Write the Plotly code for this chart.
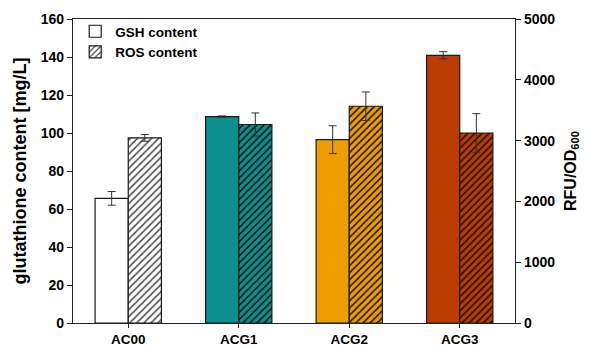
import plotly.graph_objects as go

# Strains
categories = ["AC00", "ACG1", "ACG2", "ACG3"]

# Glutathione content [mg/L] (left axis)
gsh_values = [65.6, 108.6, 96.5, 140.9]
gsh_errors = [3.6, 0.4, 7.3, 1.9]

# ROS content, RFU/OD600 (right axis)
ros_values = [3045, 3265, 3565, 3125]
ros_errors = [55, 190, 235, 318]

bar_colors = ["#FFFFFF", "#0E8F8F", "#EE9D00", "#BC3C02"]
hatch_colors = ["#4a4a4a", "#111111", "#111111", "#111111"]

font_family = "Liberation Sans, Arial, sans-serif"
bar_w = 0.3

fig = go.Figure()

# GSH bars: solid fill, left axis
fig.add_trace(go.Bar(
    x=categories, y=gsh_values, name="GSH content",
    width=bar_w, offset=-bar_w,
    marker=dict(color=bar_colors, line=dict(color="#1a1a1a", width=1.2)),
    error_y=dict(type="data", array=gsh_errors, color="#333333", thickness=1, width=4),
    yaxis="y", legendgroup="gsh",
))

# ROS bars: hatched fill, right axis (one trace per strain so each gets its own hatch colours)
for i, cat in enumerate(categories):
    fig.add_trace(go.Bar(
        x=[cat], y=[ros_values[i]], name="ROS content",
        width=bar_w, offset=0,
        marker=dict(color=bar_colors[i], line=dict(color="#1a1a1a", width=1.2),
                    pattern=dict(shape="/", fgcolor=hatch_colors[i], bgcolor=bar_colors[i],
                                 size=5, solidity=0.3, fillmode="replace")),
        error_y=dict(type="data", array=[ros_errors[i]], color="#333333", thickness=1, width=4),
        yaxis="y2", legendgroup="ros", showlegend=(i == 0),
    ))

tick_font = dict(family=font_family, size=14, color="#000000", weight="bold")

fig.update_layout(
    width=589, height=348,
    margin=dict(l=73, r=74, t=19, b=25),
    paper_bgcolor="white", plot_bgcolor="white",
    barmode="overlay",
    font=dict(family=font_family, color="#000000"),
    showlegend=True,
    legend=dict(
        x=0.005, y=1.01, xanchor="left", yanchor="top",
        bgcolor="rgba(0,0,0,0)",
        font=dict(family=font_family, size=13.5, color="#000000", weight="bold"),
        tracegroupgap=0, itemwidth=30,
    ),
    xaxis=dict(
        range=[-0.5, 3.5], showline=True, linecolor="#222222", linewidth=1.2,
        mirror=True, ticks="outside", ticklen=4, tickcolor="#222222",
        ticklabelstandoff=0, showgrid=False, zeroline=False, automargin=False,
        tickfont=dict(family=font_family, size=13.5, color="#000000", weight="bold"),
    ),
    yaxis=dict(
        range=[0, 160], dtick=20, showline=True, linecolor="#222222", linewidth=1.2,
        ticks="outside", ticklen=5, tickcolor="#222222", showgrid=False, zeroline=False,
        automargin=False, tickfont=tick_font,
        title=dict(text="glutathione content [mg/L]", standoff=9,
                   font=dict(family=font_family, size=18, color="#000000", weight="bold")),
    ),
    yaxis2=dict(
        range=[0, 5000], dtick=1000, overlaying="y", side="right",
        showline=True, linecolor="#222222", linewidth=1.2,
        ticks="outside", ticklen=5, tickcolor="#222222", showgrid=False, zeroline=False,
        automargin=False, tickfont=tick_font,
        title=dict(text="RFU/OD<sub>600</sub>", standoff=10,
                   font=dict(family=font_family, size=16, color="#000000", weight="bold")),
    ),
)

fig.write_html("out.html")
